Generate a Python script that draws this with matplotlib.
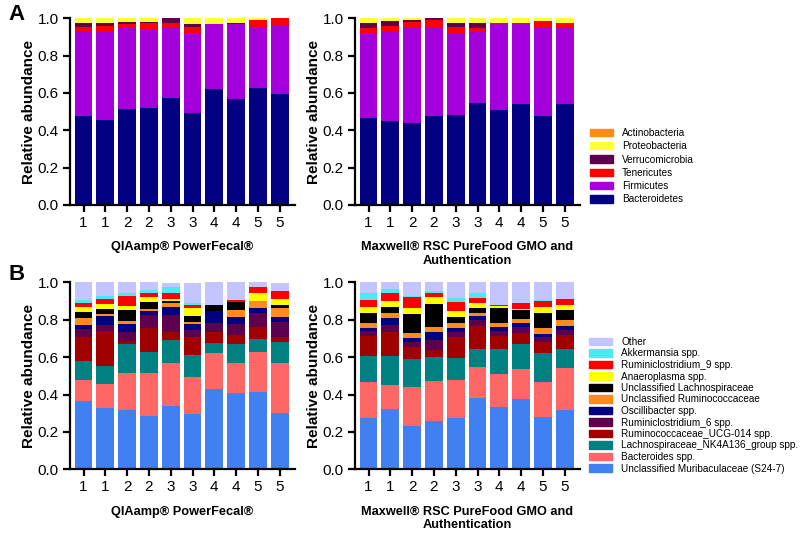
import matplotlib
matplotlib.use("Agg")
import matplotlib.pyplot as plt
from matplotlib.patches import Patch
import numpy as np

plt.rcParams["font.family"] = ["Liberation Sans", "DejaVu Sans"]

sample_labels = ["1", "1", "2", "2", "3", "3", "4", "4", "5", "5"]
kit_left = "QIAamp® PowerFecal®"
kit_right = "Maxwell® RSC PureFood GMO and\nAuthentication"

# ---- Panel A: phylum level (bottom -> top) ----
phyla = ["Bacteroidetes", "Firmicutes", "Tenericutes", "Verrucomicrobia",
         "Proteobacteria", "Actinobacteria"]
phyla_colors = ["#000080", "#A400DC", "#FF0000", "#5E004E", "#FFFF33", "#FF8C1A"]

a_left_bacteroidetes = [0.477, 0.455, 0.514, 0.518, 0.571, 0.491, 0.621, 0.568, 0.625, 0.595]
a_left_firmicutes = [0.452, 0.474, 0.432, 0.425, 0.379, 0.423, 0.349, 0.402, 0.327, 0.366]
a_left_tenericutes = [0.023, 0.032, 0.024, 0.030, 0.023, 0.041, 0.000, 0.000, 0.039, 0.039]
a_left_verrucomicrobia = [0.021, 0.016, 0.012, 0.009, 0.027, 0.015, 0.000, 0.003, 0.000, 0.000]
a_left_proteobacteria = [0.027, 0.023, 0.018, 0.018, 0.000, 0.030, 0.030, 0.027, 0.009, 0.000]
a_left_actinobacteria = [0.0, 0.0, 0.0, 0.0, 0.0, 0.0, 0.0, 0.0, 0.0, 0.0]

a_right_bacteroidetes = [0.468, 0.450, 0.441, 0.475, 0.480, 0.548, 0.509, 0.539, 0.477, 0.541]
a_right_firmicutes = [0.446, 0.479, 0.505, 0.475, 0.436, 0.377, 0.461, 0.431, 0.473, 0.405]
a_right_tenericutes = [0.032, 0.032, 0.036, 0.041, 0.036, 0.025, 0.007, 0.007, 0.036, 0.031]
a_right_verrucomicrobia = [0.031, 0.025, 0.009, 0.009, 0.025, 0.027, 0.000, 0.000, 0.000, 0.000]
a_right_proteobacteria = [0.023, 0.014, 0.009, 0.000, 0.023, 0.023, 0.023, 0.023, 0.014, 0.023]
a_right_actinobacteria = [0.0, 0.0, 0.0, 0.0, 0.0, 0.0, 0.0, 0.0, 0.0, 0.0]

# ---- Panel B: genus level (bottom -> top) ----
genera = ["Unclassified Muribaculaceae (S24-7)", "Bacteroides spp.",
          "Lachnospiraceae_NK4A136_group spp.", "Ruminococcaceae_UCG-014 spp.",
          "Ruminiclostridium_6 spp.", "Oscillibacter spp.",
          "Unclassified Ruminococcaceae", "Unclassified Lachnospiraceae",
          "Anaeroplasma spp.", "Ruminiclostridium_9 spp.", "Akkermansia spp.", "Other"]
genera_colors = ["#4080F0", "#FF6666", "#008080", "#A00000", "#5E004E", "#000080",
                 "#FF8C1A", "#000000", "#FFFF00", "#FF0000", "#4DE8F0", "#C4C4FF"]

b_left_muribaculaceae = [0.367, 0.326, 0.319, 0.287, 0.340, 0.294, 0.430, 0.410, 0.415, 0.299]
b_left_bacteroides = [0.111, 0.130, 0.194, 0.230, 0.230, 0.198, 0.190, 0.157, 0.214, 0.267]
b_left_nk4a136 = [0.103, 0.096, 0.157, 0.108, 0.121, 0.117, 0.055, 0.103, 0.066, 0.115]
b_left_ucg014 = [0.128, 0.188, 0.016, 0.131, 0.043, 0.096, 0.058, 0.048, 0.068, 0.024]
b_left_rumini6 = [0.040, 0.032, 0.050, 0.068, 0.090, 0.038, 0.049, 0.059, 0.074, 0.083]
b_left_oscillibacter = [0.021, 0.049, 0.043, 0.020, 0.044, 0.032, 0.066, 0.039, 0.027, 0.027]
b_left_uncl_rumino = [0.039, 0.011, 0.014, 0.013, 0.023, 0.011, 0.000, 0.036, 0.038, 0.050]
b_left_uncl_lachno = [0.032, 0.024, 0.059, 0.035, 0.011, 0.033, 0.031, 0.043, 0.000, 0.012]
b_left_anaeroplasma = [0.025, 0.026, 0.023, 0.027, 0.011, 0.042, 0.000, 0.002, 0.039, 0.032]
b_left_rumini9 = [0.023, 0.027, 0.052, 0.025, 0.032, 0.017, 0.000, 0.008, 0.036, 0.045]
b_left_akkermansia = [0.016, 0.017, 0.017, 0.014, 0.029, 0.011, 0.000, 0.000, 0.000, 0.000]
b_left_other = [0.095, 0.073, 0.056, 0.042, 0.023, 0.109, 0.121, 0.095, 0.023, 0.041]

b_right_muribaculaceae = [0.277, 0.325, 0.232, 0.257, 0.277, 0.382, 0.332, 0.375, 0.280, 0.317]
b_right_bacteroides = [0.191, 0.125, 0.209, 0.216, 0.203, 0.166, 0.178, 0.164, 0.188, 0.223]
b_right_nk4a136 = [0.137, 0.155, 0.148, 0.129, 0.113, 0.095, 0.132, 0.131, 0.155, 0.102]
b_right_ucg014 = [0.108, 0.131, 0.063, 0.036, 0.112, 0.123, 0.070, 0.057, 0.059, 0.078]
b_right_rumini6 = [0.028, 0.035, 0.030, 0.053, 0.031, 0.032, 0.030, 0.032, 0.023, 0.025]
b_right_oscillibacter = [0.016, 0.036, 0.022, 0.045, 0.018, 0.022, 0.018, 0.021, 0.018, 0.022]
b_right_uncl_rumino = [0.027, 0.027, 0.026, 0.023, 0.026, 0.018, 0.025, 0.024, 0.031, 0.031]
b_right_uncl_lachno = [0.054, 0.036, 0.100, 0.123, 0.036, 0.026, 0.080, 0.048, 0.084, 0.055]
b_right_anaeroplasma = [0.032, 0.032, 0.034, 0.038, 0.032, 0.024, 0.006, 0.005, 0.032, 0.027]
b_right_rumini9 = [0.035, 0.039, 0.055, 0.021, 0.048, 0.026, 0.007, 0.030, 0.032, 0.030]
b_right_akkermansia = [0.036, 0.022, 0.007, 0.013, 0.022, 0.027, 0.000, 0.000, 0.002, 0.000]
b_right_other = [0.059, 0.037, 0.073, 0.046, 0.082, 0.059, 0.122, 0.113, 0.098, 0.090]

a_left = [a_left_bacteroidetes, a_left_firmicutes, a_left_tenericutes,
          a_left_verrucomicrobia, a_left_proteobacteria, a_left_actinobacteria]
a_right = [a_right_bacteroidetes, a_right_firmicutes, a_right_tenericutes,
           a_right_verrucomicrobia, a_right_proteobacteria, a_right_actinobacteria]
b_left = [b_left_muribaculaceae, b_left_bacteroides, b_left_nk4a136, b_left_ucg014,
          b_left_rumini6, b_left_oscillibacter, b_left_uncl_rumino, b_left_uncl_lachno,
          b_left_anaeroplasma, b_left_rumini9, b_left_akkermansia, b_left_other]
b_right = [b_right_muribaculaceae, b_right_bacteroides, b_right_nk4a136, b_right_ucg014,
           b_right_rumini6, b_right_oscillibacter, b_right_uncl_rumino, b_right_uncl_lachno,
           b_right_anaeroplasma, b_right_rumini9, b_right_akkermansia, b_right_other]

W, H = 800, 534
fig = plt.figure(figsize=(W / 100, H / 100), dpi=100)

XLIM = (-0.62, 9.68)
PITCH = 21.8


def px_axes(left, top, bottom):
    width = PITCH * (XLIM[1] - XLIM[0])
    return fig.add_axes([left / W, 1 - bottom / H, width / W, (bottom - top) / H])


def stacked(ax, layers, colors, xlabel):
    x = np.arange(len(sample_labels))
    base = np.zeros(len(sample_labels))
    for vals, col in zip(layers, colors):
        vals = np.asarray(vals)
        ax.bar(x, vals, bottom=base, width=0.82, color=col, linewidth=0)
        base = base + vals
    ax.set_xlim(*XLIM)
    ax.set_ylim(0, 1.0)
    ax.set_yticks(np.arange(0, 1.01, 0.2))
    ax.set_yticklabels([f"{v:.1f}" for v in np.arange(0, 1.01, 0.2)])
    ax.set_xticks(x)
    ax.set_xticklabels(sample_labels)
    for s in ["top", "right"]:
        ax.spines[s].set_visible(False)
    for s in ["left", "bottom"]:
        ax.spines[s].set_linewidth(1.6)
    ax.tick_params(width=1.6, length=5, labelsize=11, pad=3)
    ax.set_ylabel("Relative abundance", fontsize=11, fontweight="bold", labelpad=1)
    ax.set_xlabel(xlabel, fontsize=9.2, fontweight="bold", labelpad=8,
                  linespacing=1.15)


ax_al = px_axes(70, 18.3, 205)
ax_ar = px_axes(355, 18.3, 205)
ax_bl = px_axes(70, 282.3, 469.3)
ax_br = px_axes(355, 282.3, 469.3)

stacked(ax_al, a_left, phyla_colors, kit_left)
stacked(ax_ar, a_right, phyla_colors, kit_right)
stacked(ax_bl, b_left, genera_colors, kit_left)
stacked(ax_br, b_right, genera_colors, kit_right)

fig.text(8 / W, 1 - 14 / H, "A", fontsize=16, fontweight="bold", va="center")
fig.text(8 / W, 1 - 274 / H, "B", fontsize=16, fontweight="bold", va="center")

handles_a = [Patch(color=c, label=l) for l, c in zip(phyla, phyla_colors)][::-1]
fig.legend(handles=handles_a, loc="upper left", bbox_to_anchor=(590 / W, 1 - 128 / H),
           frameon=False, fontsize=7.2, handlelength=2.3, handleheight=0.75,
           labelspacing=0.33, handletextpad=0.9, borderaxespad=0, borderpad=0)

handles_b = [Patch(color=c, label=l) for l, c in zip(genera, genera_colors)][::-1]
fig.legend(handles=handles_b, loc="upper left", bbox_to_anchor=(589 / W, 1 - 337 / H),
           frameon=False, fontsize=7.2, handlelength=2.3, handleheight=0.75,
           labelspacing=0.15, handletextpad=0.9, borderaxespad=0, borderpad=0)

fig.savefig("out.png", dpi=100)
